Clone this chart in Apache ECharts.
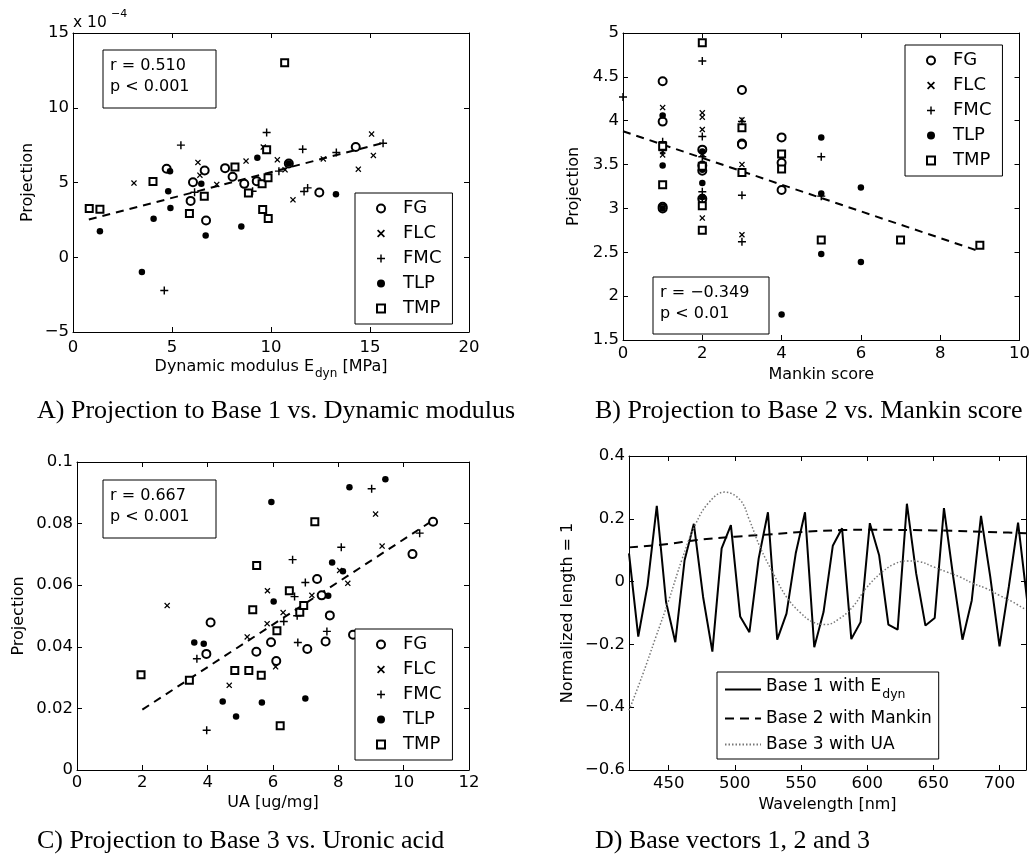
<!DOCTYPE html>
<html>
<head>
<meta charset="utf-8">
<script src="https://cdn.jsdelivr.net/npm/echarts@6/dist/echarts.min.js"></script>
<style>html,body{margin:0;padding:0;background:#fff}#c{width:1033px;height:855px}</style>
</head>
<body>
<div id="c"></div>
<script>
// ---------- DATA ----------
const groups = ['FG', 'FLC', 'FMC', 'TLP', 'TMP'];

// Panel A: Projection (x 10^-4) vs Dynamic modulus Edyn [MPa]
const aFGx  = [4.73, 6.65, 6.06, 5.94, 6.72, 7.68, 8.06, 8.65, 9.28, 10.9, 12.44, 14.28];
const aFGy  = [5.92, 5.80, 5.02, 3.77, 2.46, 5.96, 5.38, 4.91, 5.09, 6.27, 4.33, 7.37];
const aFLCx = [3.08, 6.31, 6.41, 7.26, 8.74, 9.61, 10.32, 10.71, 11.11, 12.64, 14.41, 15.08, 15.17];
const aFLCy = [4.96, 6.34, 5.49, 4.87, 6.43, 7.37, 6.52, 5.85, 3.84, 6.58, 5.89, 8.24, 6.81];
const aFMCx = [4.61, 5.45, 6.14, 9.07, 9.78, 10.4, 11.6, 11.67, 11.85, 13.3, 15.66];
const aFMCy = [-2.23, 7.50, 4.35, 4.42, 8.35, 5.76, 7.23, 4.40, 4.64, 7.01, 7.63];
const aTLPx = [1.36, 3.48, 4.07, 4.81, 4.90, 4.92, 6.48, 6.70, 8.50, 9.31, 10.9, 13.28];
const aTLPy = [1.74, -0.98, 2.57, 4.42, 5.76, 3.30, 4.91, 1.45, 2.05, 6.65, 6.27, 4.22];
const aTMPx = [0.82, 1.36, 4.04, 5.88, 6.63, 8.18, 8.86, 9.55, 9.58, 9.78, 9.85, 9.86, 10.69];
const aTMPy = [3.26, 3.21, 5.07, 2.92, 4.08, 6.03, 4.29, 4.91, 3.19, 7.19, 5.31, 2.59, 13.01];
const aFitX = [0.8, 15.7];
const aFitY = [2.52, 7.66];

// Panel B: Projection vs Mankin score
const bFGx  = [1, 1, 1, 1, 2, 2, 2, 2, 3, 3, 3, 4, 4, 4];
const bFGy  = [4.45, 3.99, 3.02, 3.00, 3.67, 3.49, 3.43, 3.11, 4.35, 3.74, 3.73, 3.81, 3.52, 3.21];
const bFLCx = [1, 1, 1, 1, 2, 2, 2, 2, 2, 3, 3, 3];
const bFLCy = [4.15, 4.05, 3.65, 3.61, 4.09, 4.04, 3.90, 3.62, 2.89, 4.01, 3.50, 2.70];
const bFMCx = [0, 1, 1, 2, 2, 2, 2, 2, 3, 3, 3, 5, 5];
const bFMCy = [4.27, 3.76, 3.66, 4.68, 3.82, 3.59, 3.19, 3.11, 3.99, 3.15, 2.62, 3.59, 3.14];
const bTLPx = [1, 1, 1, 2, 2, 2, 2, 4, 5, 5, 5, 6, 6];
const bTLPy = [4.06, 3.49, 3.00, 3.65, 3.44, 3.29, 3.13, 1.79, 3.81, 3.17, 2.48, 3.24, 2.39];
const bTMPx = [1, 1, 2, 2, 2, 2, 3, 3, 4, 4, 5, 7, 9];
const bTMPy = [3.71, 3.27, 4.89, 3.48, 3.03, 2.75, 3.92, 3.41, 3.62, 3.45, 2.64, 2.64, 2.58];
const bFitX = [0, 9];
const bFitY = [3.88, 2.51];

// Panel C: Projection vs UA [ug/mg]
const cFGx  = [3.96, 4.09, 5.49, 5.94, 6.10, 7.05, 7.35, 7.49, 7.61, 7.74, 8.45, 10.27, 10.9];
const cFGy  = [0.0377, 0.0479, 0.0384, 0.0415, 0.0354, 0.0393, 0.0620, 0.0567, 0.0417, 0.0502, 0.0439, 0.0701, 0.0806];
const cFLCx = [2.76, 4.66, 5.21, 5.82, 5.83, 6.08, 6.31, 7.19, 8.04, 8.29, 9.14, 9.34];
const cFLCy = [0.0534, 0.0275, 0.0432, 0.0475, 0.0582, 0.0335, 0.0511, 0.0567, 0.0648, 0.0606, 0.0831, 0.0727];
const cFMCx = [3.67, 3.97, 6.33, 6.60, 6.66, 6.74, 6.76, 6.99, 7.65, 8.09, 9.02, 10.49];
const cFMCy = [0.0361, 0.0129, 0.0482, 0.0683, 0.0563, 0.0501, 0.0414, 0.0609, 0.0450, 0.0723, 0.0913, 0.0769];
const cTLPx = [3.59, 3.88, 4.46, 4.87, 5.66, 5.95, 6.02, 6.99, 7.69, 7.81, 8.14, 8.34, 9.44];
const cTLPy = [0.0414, 0.0410, 0.0222, 0.0174, 0.0219, 0.0870, 0.0547, 0.0232, 0.0566, 0.0674, 0.0645, 0.0918, 0.0944];
const cTMPx = [1.96, 3.44, 4.83, 5.26, 5.38, 5.50, 5.64, 6.12, 6.22, 6.50, 6.82, 6.94, 7.28];
const cTMPy = [0.0309, 0.0291, 0.0323, 0.0323, 0.0520, 0.0664, 0.0308, 0.0452, 0.0144, 0.0582, 0.0512, 0.0534, 0.0806];
const cFitX = [2.0, 10.8];
const cFitY = [0.0196, 0.0804];

// Panel D: Base vectors vs Wavelength [nm]
const wl1 = [420, 427, 434, 441, 448, 455, 462, 469, 476, 483, 490, 497, 504, 511, 518, 525, 532, 539, 546, 553, 560, 567,
             574, 581, 588, 595, 602, 609, 616, 623, 630, 637, 644, 651, 658, 665, 672, 679, 686, 693, 700, 707, 714, 721];
const base1 = [0.09, -0.175, -0.012, 0.241, -0.065, -0.193, 0.068, 0.184, -0.049, -0.223, 0.106, 0.180, -0.111, -0.161,
               0.074, 0.221, -0.185, -0.102, 0.09, 0.221, -0.209, -0.097, 0.114, 0.170, -0.183, -0.129, 0.186, 0.084,
               -0.137, -0.153, 0.248, 0.026, -0.140, -0.116, 0.234, 0.015, -0.185, -0.06, 0.209, 0.015, -0.206, -0.017, 0.188, -0.065];
const wl2 = [420, 450, 470, 500, 525, 550, 580, 600, 650, 700, 720];
const base2 = [0.109, 0.120, 0.132, 0.143, 0.150, 0.158, 0.164, 0.165, 0.163, 0.157, 0.154];
const wl3 = [420, 430, 440, 450, 460, 470, 480, 492, 504, 511, 519, 529, 539, 549, 559, 569, 579, 589, 599, 610,
             620, 630, 640, 650, 660, 670, 680, 690, 700, 710, 720];
const base3 = [-0.41, -0.30, -0.18, -0.06, 0.07, 0.18, 0.25, 0.285, 0.26, 0.196, 0.11, 0.026, -0.049, -0.097, -0.129,
               -0.137, -0.118, -0.081, -0.022, 0.026, 0.055, 0.066, 0.063, 0.047, 0.031, 0.015, -0.006, -0.022, -0.044, -0.065, -0.09];

const statsA = ['r = 0.510', 'p < 0.001'];
const statsB = ['r = \u22120.349', 'p < 0.01'];
const statsC = ['r = 0.667', 'p < 0.001'];
const captions = ['A) Projection to Base 1 vs. Dynamic modulus', 'B) Projection to Base 2 vs. Mankin score',
                  'C) Projection to Base 3 vs. Uronic acid', 'D) Base vectors 1, 2 and 3'];

// ---------- BUILD ----------
const SANS = '"DejaVu Sans", "Liberation Sans", Arial, sans-serif';
const SERIF = '"Liberation Serif", "Times New Roman", serif';
const zip = (xs, ys) => xs.map((x, i) => [x, ys[i]]);
const minus = v => String(v).replace('-', '\u2212');

const X_PATH = 'path://M0,1.5L1.5,0L5,3.5L8.5,0L10,1.5L6.5,5L10,8.5L8.5,10L5,6.5L1.5,10L0,8.5L3.5,5Z';
const PLUS_PATH = 'path://M4.1,0H5.9V4.1H10V5.9H5.9V10H4.1V5.9H0V4.1H4.1Z';
const MARK = {
  FG:  {symbol: 'emptyCircle', size: 8, bw: 1.3},
  FLC: {symbol: X_PATH, size: 6, bw: 0},
  FMC: {symbol: PLUS_PATH, size: 8, bw: 0},
  TLP: {symbol: 'circle', size: 6.5, bw: 0},
  TMP: {symbol: 'emptyRect', size: 7, bw: 1.3}
};

const grids = [
  {left: 73, top: 33, width: 396, height: 299},
  {left: 623, top: 33, width: 397, height: 307},
  {left: 77, top: 462, width: 392, height: 308},
  {left: 629, top: 456, width: 397, height: 314}
];

const subRich = {
  n: {fontSize: 16, fontFamily: SANS, color: '#000', verticalAlign: 'top'},
  sub: {fontSize: 12, fontFamily: SANS, color: '#000', verticalAlign: 'top', padding: [9, 0, 0, 1]}
};
const legRich = {
  n: {fontSize: 17, fontFamily: SANS, color: '#000', verticalAlign: 'top'},
  sub: {fontSize: 12.5, fontFamily: SANS, color: '#000', verticalAlign: 'top', padding: [10, 0, 0, 1]}
};

const axesCfg = [
  {x: {min: 0, max: 20, interval: 5}, y: {min: -5, max: 15, interval: 5},
   xname: '{n|Dynamic modulus E}{sub|dyn}{n| [MPa]}', xgap: 27, yname: 'Projection', ygap: 37, xmargin: 7},
  {x: {min: 0, max: 10, interval: 2}, y: {min: 1.5, max: 5, interval: 0.5},
   xname: 'Mankin score', xgap: 27, yname: 'Projection', ygap: 41, xmargin: 5},
  {x: {min: 0, max: 12, interval: 2}, y: {min: 0, max: 0.1, interval: 0.02},
   xname: 'UA [ug/mg]', xgap: 25, yname: 'Projection', ygap: 50, xmargin: 4},
  {x: {min: 420, max: 720}, y: {min: -0.6, max: 0.4, interval: 0.2},
   xname: 'Wavelength [nm]', xgap: 27, yname: 'Normalized length = 1', ygap: 53, xmargin: 5}
];

const lineBlack = {lineStyle: {color: '#000', width: 1}};
const tickCfg = {show: true, inside: true, length: 5, lineStyle: {color: '#000', width: 1}};
const xAxis = [], yAxis = [];
axesCfg.forEach((c, g) => {
  const xFmt = (v) => {
    if (g === 3 && (Math.round(v) % 50 !== 0)) return '';
    return minus(+v.toFixed(6));
  };
  const yFmt = (v) => minus(+v.toFixed(6));
  xAxis.push(Object.assign({
    gridIndex: g, type: 'value', position: 'bottom',
    name: c.xname, nameLocation: 'middle', nameGap: c.xgap,
    nameTextStyle: {fontSize: 16, fontFamily: SANS, color: '#000', rich: subRich},
    axisLine: Object.assign({onZero: false, show: true}, lineBlack),
    axisTick: tickCfg,
    axisLabel: {fontSize: 16.5, fontFamily: SANS, color: '#000', margin: c.xmargin, formatter: xFmt,
                showMinLabel: g !== 3, showMaxLabel: g !== 3},
    splitLine: {show: false}
  }, c.x));
  xAxis.push(Object.assign({
    gridIndex: g, type: 'value', position: 'top',
    axisLine: Object.assign({onZero: false, show: true}, lineBlack),
    axisTick: tickCfg, axisLabel: {show: false}, splitLine: {show: false}
  }, c.x));
  yAxis.push(Object.assign({
    gridIndex: g, type: 'value', position: 'left',
    name: c.yname, nameLocation: 'middle', nameGap: c.ygap, nameRotate: 90,
    nameTextStyle: {fontSize: 16, fontFamily: SANS, color: '#000'},
    axisLine: Object.assign({onZero: false, show: true}, lineBlack),
    axisTick: tickCfg,
    axisLabel: {fontSize: 16.5, fontFamily: SANS, color: '#000', margin: 4, formatter: yFmt},
    splitLine: {show: false}
  }, c.y));
  yAxis.push(Object.assign({
    gridIndex: g, type: 'value', position: 'right',
    axisLine: Object.assign({onZero: false, show: true}, lineBlack),
    axisTick: tickCfg, axisLabel: {show: false}, splitLine: {show: false}
  }, c.y));
});

function scat(name, xs, ys, g) {
  const m = MARK[name];
  return {
    type: 'scatter', name, xAxisIndex: 2 * g, yAxisIndex: 2 * g,
    data: zip(xs, ys), symbol: m.symbol, symbolSize: m.size,
    itemStyle: {color: '#000', borderColor: '#000', borderWidth: m.bw, opacity: 1},
    silent: true, z: 3
  };
}
function fit(xs, ys, g) {
  return {
    type: 'line', name: 'fit' + g, xAxisIndex: 2 * g, yAxisIndex: 2 * g,
    data: zip(xs, ys), symbol: 'none', silent: true, z: 2,
    lineStyle: {color: '#000', width: 2, type: [8, 6]}
  };
}

const series = [
  scat('FG', aFGx, aFGy, 0), scat('FLC', aFLCx, aFLCy, 0), scat('FMC', aFMCx, aFMCy, 0),
  scat('TLP', aTLPx, aTLPy, 0), scat('TMP', aTMPx, aTMPy, 0), fit(aFitX, aFitY, 0),
  scat('FG', bFGx, bFGy, 1), scat('FLC', bFLCx, bFLCy, 1), scat('FMC', bFMCx, bFMCy, 1),
  scat('TLP', bTLPx, bTLPy, 1), scat('TMP', bTMPx, bTMPy, 1), fit(bFitX, bFitY, 1),
  scat('FG', cFGx, cFGy, 2), scat('FLC', cFLCx, cFLCy, 2), scat('FMC', cFMCx, cFMCy, 2),
  scat('TLP', cTLPx, cTLPy, 2), scat('TMP', cTMPx, cTMPy, 2), fit(cFitX, cFitY, 2),
  {type: 'line', name: 'Base 1 with Edyn', xAxisIndex: 6, yAxisIndex: 6, data: zip(wl1, base1),
   symbol: 'none', silent: true, clip: true, lineStyle: {color: '#000', width: 2}, itemStyle: {color: '#000'}},
  {type: 'line', name: 'Base 2 with Mankin', xAxisIndex: 6, yAxisIndex: 6, data: zip(wl2, base2), smooth: 0.4,
   symbol: 'none', silent: true, clip: true, lineStyle: {color: '#000', width: 2, type: [9, 6]}, itemStyle: {color: '#000'}},
  {type: 'line', name: 'Base 3 with UA', xAxisIndex: 6, yAxisIndex: 6, data: zip(wl3, base3), smooth: 0.4,
   symbol: 'none', silent: true, clip: true, lineStyle: {color: '#777', width: 1.5, type: [1.5, 2]}, itemStyle: {color: '#777'}}
];

function scatLegend(left, top) {
  return {
    orient: 'vertical', left, top, padding: [6, 11, 6, 21],
    itemWidth: 8, itemHeight: 8, itemGap: 6, selectedMode: false,
    borderColor: '#000', borderWidth: 1, backgroundColor: '#fff', borderRadius: 0,
    textStyle: {fontSize: 18, fontFamily: SANS, color: '#000', lineHeight: 19, padding: [0, 0, 0, 13]},
    data: groups.slice(), z: 10
  };
}
const legend = [
  scatLegend(355, 193),
  scatLegend(905, 45),
  scatLegend(355, 629),
  {
    orient: 'vertical', left: 717, top: 672, padding: [6, 7, 6, 7],
    itemWidth: 36, itemHeight: 12, itemGap: 9, selectedMode: false,
    borderColor: '#000', borderWidth: 1, backgroundColor: '#fff',
    itemStyle: {opacity: 0},
    textStyle: {fontSize: 17, fontFamily: SANS, color: '#000', rich: legRich},
    formatter: name => name === 'Base 1 with Edyn' ? '{n|Base 1 with E}{sub|dyn}' : '{n|' + name + '}',
    data: ['Base 1 with Edyn', 'Base 2 with Mankin', 'Base 3 with UA'], z: 10
  }
];

function statBox(x, y, w, h, lines) {
  return [
    {type: 'rect', shape: {x, y, width: w, height: h}, style: {fill: '#fff', stroke: '#000', lineWidth: 1}, z: 20},
    {type: 'text', x: x + 7, y: y + 5, z: 21,
     style: {text: lines.join('\n'), fontSize: 16, fontFamily: SANS, fill: '#000', lineHeight: 21, verticalAlign: 'top'}}
  ];
}
const capStyle = {fontSize: 26, fontFamily: SERIF, fill: '#000', verticalAlign: 'top'};
const graphic = [].concat(
  statBox(103, 50, 113, 58, statsA),
  statBox(653, 277, 116, 57, statsB),
  statBox(103, 480, 113, 58, statsC),
  [
    {type: 'text', x: 73, y: 23, z: 21, style: {text: 'x 10', fontSize: 15.5, fontFamily: SANS, fill: '#000', verticalAlign: 'middle'}},
    {type: 'text', x: 111, y: 14, z: 21, style: {text: '\u22124', fontSize: 11, fontFamily: SANS, fill: '#000', verticalAlign: 'middle'}},
    {type: 'text', x: 37, y: 398, style: Object.assign({text: captions[0]}, capStyle)},
    {type: 'text', x: 595, y: 398, style: Object.assign({text: captions[1]}, capStyle)},
    {type: 'text', x: 37, y: 828, style: Object.assign({text: captions[2]}, capStyle)},
    {type: 'text', x: 595, y: 828, style: Object.assign({text: captions[3]}, capStyle)}
  ]
);

const chart = echarts.init(document.getElementById('c'), null, {renderer: 'canvas'});
chart.setOption({
  animation: false,
  backgroundColor: '#fff',
  textStyle: {fontFamily: SANS, color: '#000'},
  grid: grids,
  xAxis, yAxis, series, legend, graphic,
  tooltip: {show: false}
});
</script>
</body>
</html>
